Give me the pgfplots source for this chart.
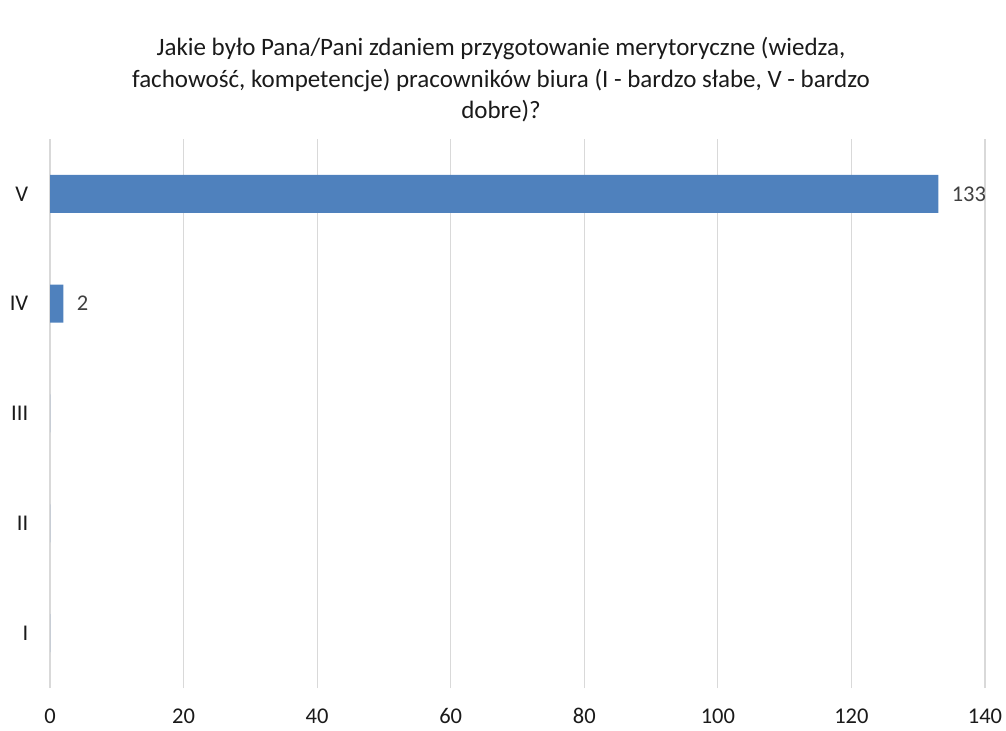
\documentclass[border=0pt]{standalone}
\usepackage{fontspec}
\setmainfont{Carlito}
\usepackage{pgfplots}
\pgfplotsset{compat=1.18}
\definecolor{barblue}{HTML}{4F81BD}
\definecolor{txt}{HTML}{404040}
\definecolor{ttl}{HTML}{1A1A1A}
\definecolor{gridc}{HTML}{D9D9D9}
\begin{document}
\begin{tikzpicture}
\useasboundingbox (-50bp,-43bp) rectangle (956bp,688bp);
\begin{axis}[
  at={(0,0)}, anchor=south west,
  scale only axis, width=935bp, height=549bp,
  xmin=0, xmax=140, ymin=-0.5, ymax=4.5,
  xbar, bar width=38bp,
  axis line style={draw=none}, tick style={draw=none},
  xmajorgrids, grid style={color=gridc, line width=1.2bp},
  xtick={0,20,...,140},
  ytick={0,1,2,3,4}, yticklabels={I,II,III,IV,V},
  /pgf/number format/assume math mode=true,
  tick label style={font=\fontsize{22.5bp}{26bp}\selectfont, text=ttl},
  xticklabel style={yshift=-17bp},
  yticklabel style={xshift=-14bp},
  nodes near coords={\pgfmathfloatifflags{\pgfplotspointmeta}{0}{}{\pgfmathprintnumber{\pgfplotspointmeta}}},
  nodes near coords style={font=\fontsize{22.5bp}{26bp}\selectfont, text=txt, anchor=west, xshift=10bp},
]
\addplot[fill=barblue, draw=none] coordinates {(0,0) (0,1) (0,2) (2,3) (133,4)};
\end{axis}
\node[align=center, text=ttl, font=\fontsize{25bp}{31.5bp}\selectfont] at (451bp,608bp)
  {Jakie było Pana/Pani zdaniem przygotowanie merytoryczne (wiedza,\\
   fachowość, kompetencje) pracowników biura (I - bardzo słabe, V - bardzo\\
   dobre)?};
\end{tikzpicture}
\end{document}
